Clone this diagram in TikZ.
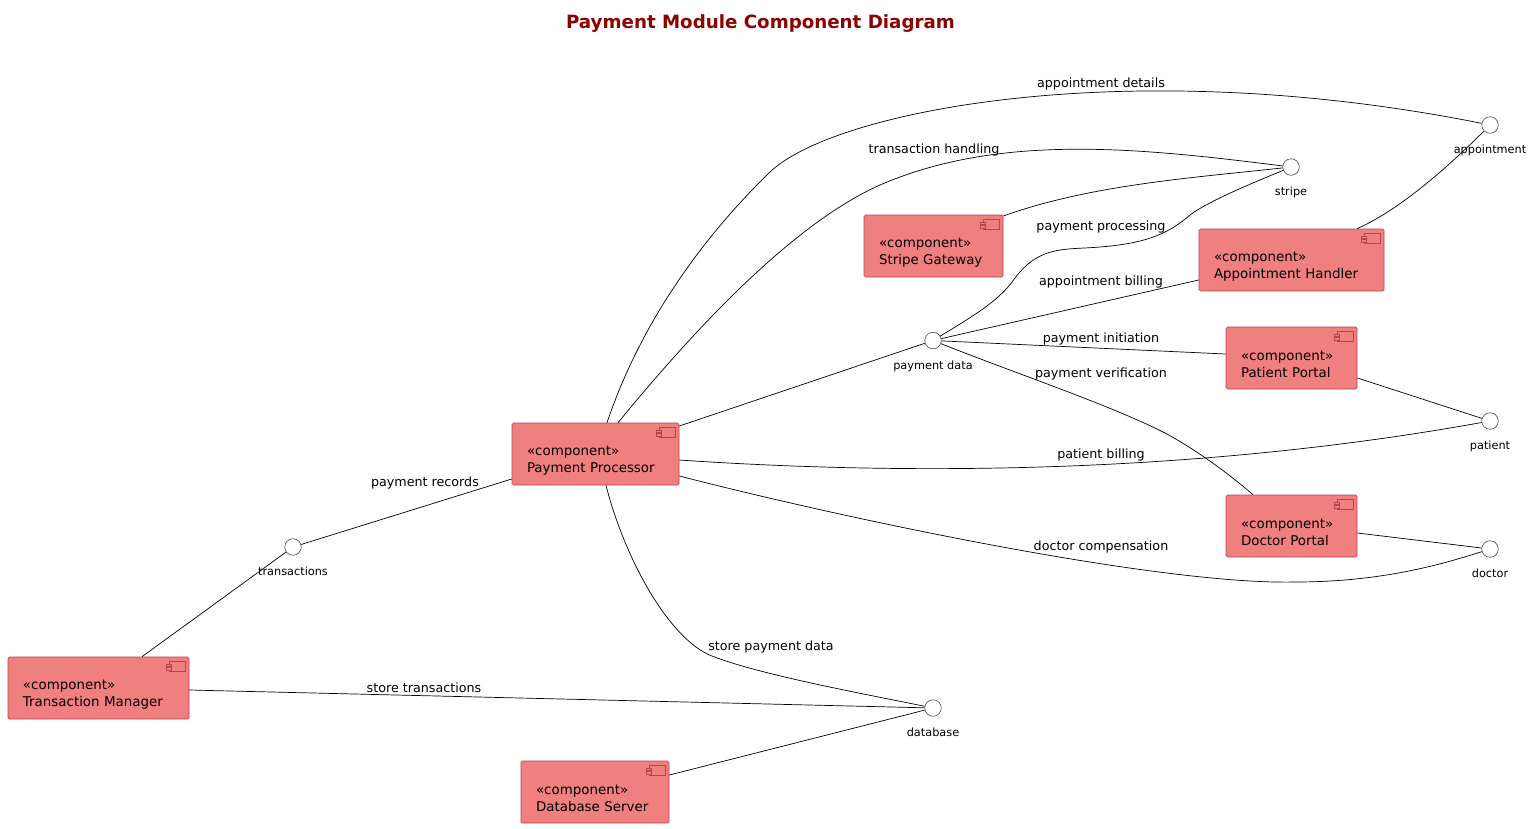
\documentclass[tikz,border=0pt]{standalone}
\usepackage{fontspec}
\setmainfont{DejaVu Sans}
\usepackage{tikz}
\usetikzlibrary{positioning}
\definecolor{compfill}{HTML}{F08080}
\definecolor{compline}{HTML}{B5444F}
\definecolor{titlered}{HTML}{8B0000}
\tikzset{
  comp/.style = {rectangle, draw=compline, fill=compfill, rounded corners=1.5pt,
    text width=#1, align=left, inner xsep=15pt, inner ysep=0pt, minimum height=62pt,
    font=\fontsize{13.4}{17}\selectfont, line width=0.7pt,
    execute at begin node={\rule{0pt}{23pt}}},
  icon/.style = {draw=compline, line width=0.8pt},
  port/.style = {circle, draw=black!70, fill=white, minimum size=16.5pt, inner sep=0pt, line width=0.6pt},
  portname/.style = {font=\fontsize{11.3}{13}\selectfont, inner sep=0pt},
  lbl/.style = {font=\fontsize{12.7}{14}\selectfont, inner sep=0pt, yshift=-0.7pt},
  wire/.style = {draw=black, line width=0.7pt}
}
\newcommand{\compicon}[1]{
  \draw [icon, shift={(#1.north east)}] (-20,5) rectangle (-4,15);
  \draw [icon, fill=compfill, shift={(#1.north east)}] (-22.5,7.5) rectangle (-17.5,10)
    (-22.5,11) rectangle (-17.5,13.5);
}

\begin{document}
\begin{tikzpicture}[x=1pt, y=-1pt]
\useasboundingbox (0,0) rectangle (1533,828);

\node [font=\bfseries\fontsize{18.25}{20}\selectfont, text=titlered] (title) at (760.5,23.5) {Payment Module Component Diagram};

% components
\node [comp=137pt] (processor) at (595.5,454) {«component»\\Payment Processor};
\node [comp=151pt] (manager) at (98.5,688) {«component»\\Transaction Manager};
\node [comp=118pt] (server) at (595,792) {«component»\\Database Server};
\node [comp=109pt] (gateway) at (933.5,246) {«component»\\Stripe Gateway};
\node [comp=155pt] (handler) at (1291.5,260) {«component»\\Appointment Handler};
\node [comp=101pt] (patientportal) at (1291.5,358) {«component»\\Patient Portal};
\node [comp=101pt] (doctorportal) at (1291.5,526) {«component»\\Doctor Portal};
\compicon{processor}
\compicon{manager}
\compicon{server}
\compicon{gateway}
\compicon{handler}
\compicon{patientportal}
\compicon{doctorportal}

% interfaces
\node [port] (transactions) at (293,547) {};
\node [port] (paydata) at (933,340.5) {};
\node [port] (stripe) at (1291,167) {};
\node [port] (appointment) at (1490,125) {};
\node [port] (patient) at (1490,421) {};
\node [port] (doctor) at (1490,549) {};
\node [port] (database) at (933,708) {};

\node [portname, below=11.5pt of transactions] (transactionsname) {transactions};
\node [portname, below=11.5pt of paydata] (paydataname) {payment data};
\node [portname, below=11.5pt of stripe] (stripename) {stripe};
\node [portname, below=11.5pt of appointment] (appointmentname) {appointment};
\node [portname, below=11.5pt of patient] (patientname) {patient};
\node [portname, below=11.5pt of doctor] (doctorname) {doctor};
\node [portname, below=11.5pt of database] (databasename) {database};

% connectors
\path [wire] (manager.north -| 142,657) -- (transactions);
\path [wire] (transactions) -- (processor.west |- 512,479);
\path [wire] (processor.north -| 607,422) .. controls (640,325) and (700,240) .. (770,172)
  .. controls (835,110) and (1130,53) .. (appointment);
\path [wire] (processor.north -| 618,422) .. controls (690,335) and (790,225) .. (880,185)
  .. controls (1000,133) and (1140,148) .. (stripe);
\path [wire] (gateway.north east |- 1003,216) .. controls (1090,185) and (1190,178) .. (stripe);
\path [wire] (paydata) .. controls (975,315) and (1000,300) .. (1015,278)
  .. controls (1040,245) and (1065,250) .. (1100,247)
  .. controls (1150,243) and (1170,232) .. (1190,215)
  .. controls (1210,200) and (1260,180) .. (stripe);
\path [wire] (paydata) -- (handler.west |- 1199,280);
\path [wire] (paydata) -- (patientportal.west |- 1226,354);
\path [wire] (paydata) .. controls (1020,375) and (1110,405) .. (1165,433)
  .. controls (1200,452) and (1230,475) .. (doctorportal.north -| 1253,495);
\path [wire] (processor.east |- 679,426) -- (paydata);
\path [wire] (processor.east |- 679,460) .. controls (900,475) and (1190,475) .. (patient);
\path [wire] (processor.east |- 679,476) .. controls (850,520) and (1160,585) .. (1295,582)
  .. controls (1380,582) and (1440,565) .. (doctor);
\path [wire] (processor.south -| 606,486) .. controls (625,560) and (670,640) .. (712,656)
  .. controls (760,675) and (870,695) .. (database);
\path [wire] (manager.east |- 189,690) -- (database);
\path [wire] (server.east |- 669,775) -- (database);
\path [wire] (handler.north -| 1357,229) .. controls (1400,210) and (1450,165) .. (appointment);
\path [wire] (patientportal.east |- 1357,378) -- (patient);
\path [wire] (doctorportal.east |- 1357,533) -- (doctor);

% connector labels
\node [lbl] (l1) at (1101,83) {appointment details};
\node [lbl] (l2) at (934,149) {transaction handling};
\node [lbl] (l3) at (1101,226) {payment processing};
\node [lbl] (l4) at (1101,281) {appointment billing};
\node [lbl] (l5) at (1101,338) {payment initiation};
\node [lbl] (l6) at (1101,373) {payment verification};
\node [lbl] (l7) at (1101,454) {patient billing};
\node [lbl] (l8) at (1101,546) {doctor compensation};
\node [lbl] (l9) at (425,482) {payment records};
\node [lbl] (l10) at (771,646) {store payment data};
\node [lbl] (l11) at (424,687) {store transactions};
\end{tikzpicture}
\end{document}
